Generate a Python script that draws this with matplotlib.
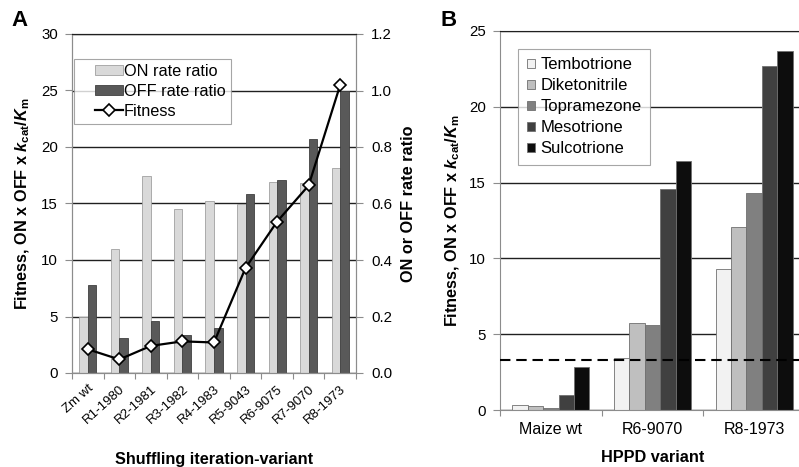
import matplotlib
matplotlib.use("Agg")
import matplotlib.pyplot as plt
from matplotlib.legend_handler import HandlerPatch, HandlerLine2D, update_from_first_child
from matplotlib.patches import Rectangle
from matplotlib.container import BarContainer
from matplotlib.lines import Line2D
import numpy as np

plt.rcParams['font.family'] = ['Liberation Sans', 'DejaVu Sans']
plt.rcParams['mathtext.fontset'] = 'custom'
plt.rcParams['mathtext.rm'] = 'Liberation Sans:bold'
plt.rcParams['mathtext.it'] = 'Liberation Sans:bold:italic'
plt.rcParams['mathtext.bf'] = 'Liberation Sans:bold'

# ---------------- Data: panel A ----------------
variants_a = ["Zm wt", "R1-1980", "R2-1981", "R3-1982", "R4-1983",
              "R5-9043", "R6-9075", "R7-9070", "R8-1973"]
on_ratio = [0.20, 0.44, 0.696, 0.58, 0.608, 0.60, 0.676, 0.672, 0.724]
off_ratio = [0.312, 0.124, 0.184, 0.136, 0.16, 0.632, 0.684, 0.828, 1.0]
fitness_a = [2.1, 1.2, 2.4, 2.8, 2.7, 9.3, 13.4, 16.6, 25.5]

# ---------------- Data: panel B ----------------
variants_b = ["Maize wt", "R6-9070", "R8-1973"]
herbicides = ["Tembotrione", "Diketonitrile", "Topramezone", "Mesotrione", "Sulcotrione"]
fitness_b = {
    "Tembotrione":   [0.3, 3.4, 9.3],
    "Diketonitrile": [0.25, 5.75, 12.1],
    "Topramezone":   [0.15, 5.6, 14.3],
    "Mesotrione":    [1.0, 14.6, 22.7],
    "Sulcotrione":   [2.85, 16.4, 23.7],
}
threshold_b = 3.3

herb_colors = ["#f2f2f2", "#bfbfbf", "#808080", "#404040", "#0d0d0d"]

W, H = 799, 467
fig = plt.figure(figsize=(W / 100, H / 100), dpi=100)

def px_axes(l, r, t, b):
    return [l / W, (H - b) / H, (r - l) / W, (b - t) / H]

ylab = r"Fitness, ON x OFF x $k_{\mathrm{cat}}$/$K_{\mathrm{m}}$"
spine_gray = "#8c8c8c"
LABFS = 11.7
TICKFS = 10.8

# legend handlers that leave blank space on the left of the handle box
SHIFT = 0.37

def right_patch(legend, orig_handle, xdescent, ydescent, width, height, fontsize):
    x0 = -xdescent + SHIFT * width
    return Rectangle((x0, -ydescent), width * (1 - SHIFT), height)

class RightLine(HandlerLine2D):
    def get_xdata(self, legend, xdescent, ydescent, width, height, fontsize):
        x0 = -xdescent + SHIFT * width
        x1 = width - xdescent
        return np.array([x0, x1]), np.array([(x0 + x1) / 2])

# ---------------- Panel A ----------------
axA = fig.add_axes(px_axes(72, 356, 34, 373))
axA2 = axA.twinx()
x = np.arange(len(variants_a))
bw = 0.27
axA.bar(x - bw / 2, on_ratio, width=bw, color="#d9d9d9", edgecolor="#a0a0a0",
        linewidth=0.6, label="ON rate ratio", zorder=2)
axA.bar(x + bw / 2, off_ratio, width=bw, color="#595959", edgecolor="#404040",
        linewidth=0.6, label="OFF rate ratio", zorder=2)
axA.set_ylim(0, 1.2)
axA.set_xlim(-0.5, len(variants_a) - 0.5)
axA.yaxis.tick_right()
axA.yaxis.set_label_position("right")
axA.set_yticks(np.arange(0, 1.21, 0.2))
axA.set_yticklabels([f"{v:.1f}" for v in np.arange(0, 1.21, 0.2)])
axA.yaxis.grid(True, color="#202020", linewidth=1.0, zorder=0)
axA.set_axisbelow(True)
axA.set_ylabel("ON or OFF rate ratio", fontsize=LABFS, fontweight="bold", labelpad=6)
axA.set_xticks(np.arange(-0.5, len(variants_a), 1.0), minor=False)
axA.set_xticklabels([])
axA.set_xticks(x, minor=True)
axA.set_xticklabels(variants_a, minor=True, rotation=42, ha="right",
                    rotation_mode="anchor", fontsize=9.5)
axA.tick_params(axis="x", which="minor", length=0, pad=7)
axA.tick_params(axis="x", which="major", length=4, color=spine_gray, direction="out")
axA.tick_params(axis="y", length=5, color=spine_gray, direction="out", labelsize=TICKFS, pad=6)
axA.set_xlabel("Shuffling iteration-variant", fontsize=LABFS, fontweight="bold", labelpad=19)
for s in ["left", "bottom", "right"]:
    axA.spines[s].set_color(spine_gray)
axA.spines["top"].set_color("#202020")

axA2.yaxis.tick_left()
axA2.yaxis.set_label_position("left")
axA2.plot(x, fitness_a, color="black", linewidth=1.6, marker="D", markersize=6,
          markerfacecolor="white", markeredgecolor="black", markeredgewidth=1.2,
          label="Fitness", zorder=5)
axA2.set_ylim(0, 30)
axA2.set_yticks(np.arange(0, 31, 5))
axA2.tick_params(axis="y", length=5, color=spine_gray, direction="out", labelsize=TICKFS, pad=5)
axA2.set_ylabel(ylab, fontsize=LABFS, fontweight="bold", labelpad=7)
for s in ["left", "bottom", "right"]:
    axA2.spines[s].set_color(spine_gray)
axA2.spines["top"].set_color("#202020")

h1, l1 = axA.get_legend_handles_labels()
h2, l2 = axA2.get_legend_handles_labels()
legA = axA2.legend(h1 + h2, l1 + l2, loc="upper left", bbox_to_anchor=(0.007, 0.926),
                   fontsize=11.7, frameon=True, fancybox=False, edgecolor="#909090",
                   handlelength=2.7, handleheight=0.55, handletextpad=0.08,
                   borderpad=0.3, labelspacing=0.3, borderaxespad=0,
                   handler_map={BarContainer: HandlerPatch(patch_func=right_patch,
                                                           update_func=update_from_first_child),
                                Line2D: RightLine()})
legA.get_frame().set_linewidth(0.8)

fig.text(11 / W, (H - 20) / H, "A", fontsize=16, fontweight="bold", va="center", ha="left")

# ---------------- Panel B ----------------
axB = fig.add_axes(px_axes(500, 805, 31, 410))
xb = np.arange(len(variants_b))
nb = len(herbicides)
wb = 0.152
for i, (h, c) in enumerate(zip(herbicides, herb_colors)):
    off = (i - (nb - 1) / 2) * wb
    axB.bar(xb + off, fitness_b[h], width=wb, color=c, edgecolor="#707070",
            linewidth=0.6, label=h, zorder=2)
axB.axhline(threshold_b, color="black", linestyle=(0, (5, 2.8)), linewidth=1.5, zorder=3)
axB.set_xlim(-0.5, len(variants_b) - 0.5)
axB.set_ylim(0, 25)
axB.set_yticks(np.arange(0, 26, 5))
axB.yaxis.grid(True, color="#202020", linewidth=1.0, zorder=0)
axB.set_axisbelow(True)
axB.set_xticks(np.arange(-0.5, len(variants_b), 1.0))
axB.set_xticklabels([])
axB.set_xticks(xb, minor=True)
axB.set_xticklabels(variants_b, minor=True, fontsize=11.5)
axB.tick_params(axis="x", which="minor", length=0, pad=9)
axB.tick_params(axis="x", which="major", length=4, color=spine_gray, direction="out")
axB.tick_params(axis="y", length=5, color=spine_gray, direction="out", labelsize=TICKFS, pad=5)
axB.set_xlabel("HPPD variant", fontsize=LABFS, fontweight="bold", labelpad=9)
axB.set_ylabel(ylab, fontsize=LABFS, fontweight="bold", labelpad=5)
for s in ["left", "bottom", "right"]:
    axB.spines[s].set_color(spine_gray)
axB.spines["top"].set_color("#202020")
legB = axB.legend(loc="upper left", bbox_to_anchor=(0.060, 0.9525), fontsize=12,
                  frameon=True, fancybox=False, edgecolor="#909090",
                  handlelength=0.48, handleheight=0.48, handletextpad=0.36,
                  borderpad=0.5, labelspacing=0.36, borderaxespad=0)
legB.get_frame().set_linewidth(0.8)
legB.set_zorder(10)

fig.text(441 / W, (H - 20) / H, "B", fontsize=16, fontweight="bold", va="center", ha="left")

fig.savefig("out.png", dpi=100)
